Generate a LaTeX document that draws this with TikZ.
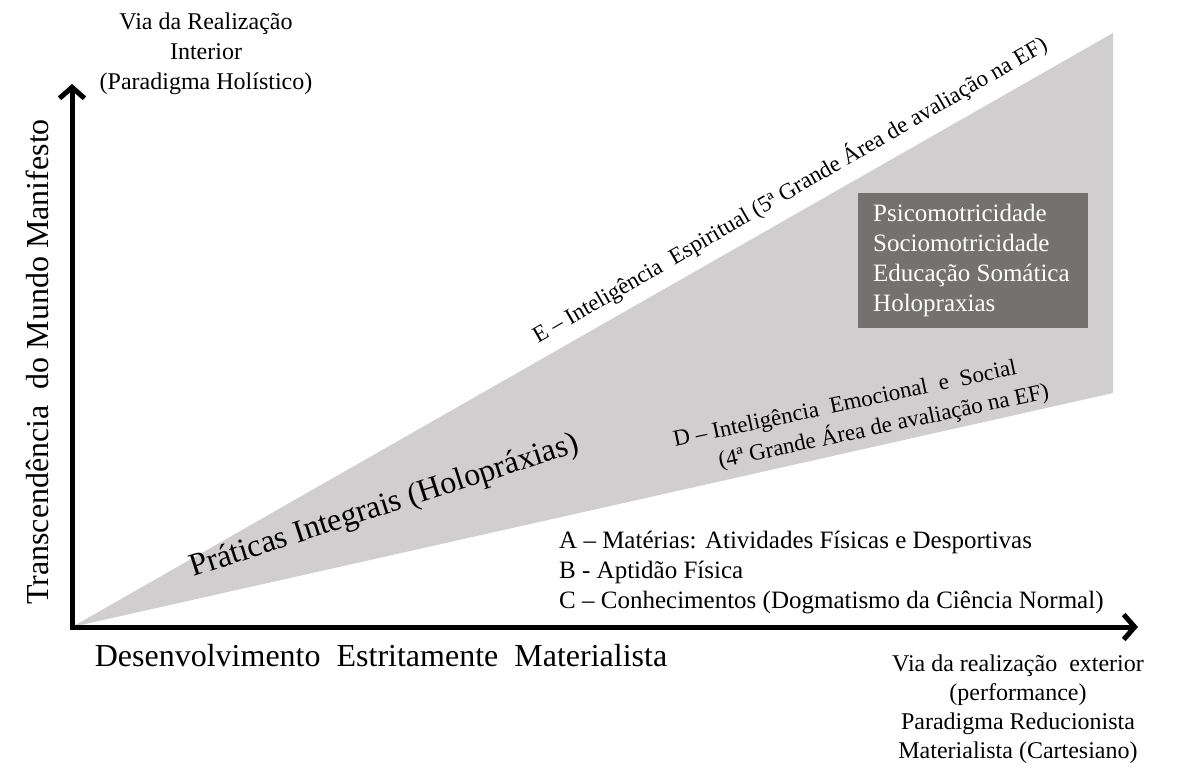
\documentclass[tikz,border=0pt]{standalone}
\usepackage{fontspec}
\setmainfont{Liberation Serif}
\usetikzlibrary{arrows.meta}
\definecolor{areagray}{RGB}{208,206,206}
\definecolor{boxgray}{RGB}{118,113,113}
\tikzset{
  lbl/.style={inner sep=0pt, font=\fontsize{24}{30}\selectfont, align=center},
  biglbl/.style={inner sep=0pt, font=\fontsize{32}{38}\selectfont},
  slant/.style={inner sep=0pt, font=\fontsize{23}{27}\selectfont, anchor=base west},
  axisline/.style={line width=5pt, line join=miter, {Straight Barb[length=11pt,width=25pt]}-{Straight Barb[length=11pt,width=25pt]}},
}
\begin{document}
\begin{tikzpicture}[x=1pt,y=-1pt]
\useasboundingbox (0,0) rectangle (1203,783);
% area
\coordinate (O) at (72,627);
\coordinate (TR) at (1113,33);
\coordinate (BR) at (1113,393);
\fill[areagray] (O) -- (TR) -- (BR) -- cycle;
% box
\node[fill=boxgray, text=white, minimum width=230pt, minimum height=135pt, inner sep=0pt, anchor=north west] (box) at (858,193) {};
\node[lbl, align=left, text=white, font=\fontsize{25}{30}\selectfont, anchor=west] (boxtxt) at (873,260.5)
  {Psicomotricidade\\Sociomotricidade\\Educação Somática\\Holopraxias};
% axes
\coordinate (Ytip) at (72,84);
\coordinate (Xtip) at (1138,627);
\draw[axisline] (Ytip) -- (O) -- (Xtip);
% labels
\node[lbl] (topleft) at (206,54) {Via da Realização\\Interior\\(Paradigma Holístico)};
\node[biglbl, rotate=90] (ylab) at (37,362) {Transcendência\ \ do Mundo Manifesto};
\node[biglbl] (xlab) at (381,656) {Desenvolvimento\ \ Estritamente\ \ Materialista};
\node[lbl, font=\fontsize{24}{29}\selectfont] (botright) at (1018,709)
  {Via da realização\ \ exterior\\(performance)\\Paradigma Reducionista\\Materialista (Cartesiano)};
\node[lbl, align=left, anchor=west, font=\fontsize{25}{30}\selectfont] (abc) at (559,573)
  {A – Matérias: Atividades Físicas e Desportivas\\B - Aptidão Física\\C – Conhecimentos (Dogmatismo da Ciência Normal)};
\node[biglbl, rotate=18, anchor=base west] (prat) at (193,577) {Práticas Integrais (Holopráxias)};
\node[slant, rotate=30] (elab) at (538,344)
  {E – Inteligência\ \ Espiritual (5ª Grande Área de avaliação na EF)};
\node[slant, rotate=12] (dlab1) at (675,447)
  {D – Inteligência\ \ Emocional\ \ e\ \ Social};
\node[slant, rotate=12] (dlab2) at (720,468)
  {(4ª Grande Área de avaliação na EF)};
\end{tikzpicture}
\end{document}
